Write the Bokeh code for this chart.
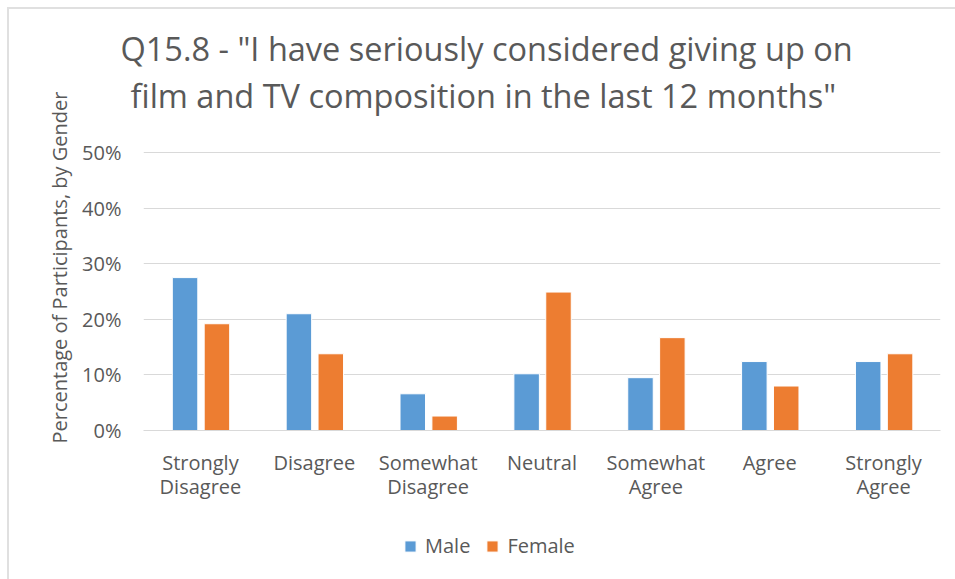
from bokeh.plotting import figure
from bokeh.layouts import column
from bokeh.models import (FactorRange, Range1d, NumeralTickFormatter, Title, Legend, LegendItem,
                          FixedTicker, ColumnDataSource)
from bokeh.transform import dodge
from bokeh.embed import file_html
from bokeh.resources import INLINE

categories = ["Strongly\nDisagree", "Disagree", "Somewhat\nDisagree", "Neutral",
              "Somewhat\nAgree", "Agree", "Strongly\nAgree"]
male = [27.5, 21.0, 6.6, 10.2, 9.5, 12.4, 12.4]
female = [19.2, 13.8, 2.6, 24.9, 16.7, 8.0, 13.8]
y_ticks = [0, 10, 20, 30, 40, 50]
series = ["Male", "Female"]

title_line1 = 'Q15.8 - "I have seriously considered giving up on'
title_line2 = 'film and TV composition in the last 12 months"'
y_label = "Percentage of Participants, by Gender"

TXT = "#595959"
FONT = "Open Sans"
C_MALE = "#5B9BD5"
C_FEMALE = "#ED7D31"
EDGE = "#e0e0e0"

src = ColumnDataSource(dict(cat=categories,
                            male=[v / 100 for v in male],
                            female=[v / 100 for v in female]))

# main chart: 0% at y=430, 50% at y=152, frame top at y=117
y_end = 0.5 * (430 - 117) / (430 - 152)

p = figure(x_range=FactorRange(factors=categories), y_range=Range1d(0, y_end),
           width=955, height=520, output_backend="svg", toolbar_location=None,
           min_border_left=143, min_border_right=15, min_border_top=117, min_border_bottom=90)
p.title = None
p.outline_line_color = None
p.background_fill_color = "white"
p.border_fill_color = None
p.styles = {"background": f"linear-gradient({EDGE}, {EDGE}) 7px 7px / 100% 2px no-repeat, "
                          f"linear-gradient({EDGE}, {EDGE}) 7px 7px / 2px 100% no-repeat, white"}

r_m = p.vbar(x=dodge("cat", -0.135, range=p.x_range), top="male", width=0.224, source=src,
             fill_color=C_MALE, line_color="white", line_width=1)
r_f = p.vbar(x=dodge("cat", 0.145, range=p.x_range), top="female", width=0.224, source=src,
             fill_color=C_FEMALE, line_color="white", line_width=1)

p.yaxis.ticker = FixedTicker(ticks=[t / 100 for t in y_ticks])
p.yaxis.formatter = NumeralTickFormatter(format="0%")
p.yaxis.axis_line_color = None
p.yaxis.major_tick_line_color = None
p.yaxis.minor_tick_line_color = None
p.yaxis.major_tick_out = 0
p.yaxis.minor_tick_out = 0
p.yaxis.major_label_standoff = 22
p.yaxis.major_label_text_font = FONT
p.yaxis.major_label_text_font_size = "20px"
p.yaxis.major_label_text_color = TXT

p.xaxis.axis_line_color = "#D9D9D9"
p.xaxis.axis_line_width = 1
p.xaxis.major_tick_line_color = None
p.xaxis.minor_tick_line_color = None
p.xaxis.major_tick_out = 0
p.xaxis.minor_tick_out = 0
p.xaxis.major_label_standoff = 18
p.xaxis.major_label_text_font = FONT
p.xaxis.major_label_text_font_size = "20px"
p.xaxis.major_label_text_color = TXT
p.xaxis.major_label_text_line_height = 0.92
p.xaxis.major_label_orientation = "horizontal"

p.xgrid.grid_line_color = None
p.ygrid.grid_line_color = "#D9D9D9"
p.ygrid.grid_line_width = 1

p.add_layout(Title(text=y_label, align="left", offset=-13, standoff=14,
                   text_font=FONT, text_font_size="20px", text_font_style="normal",
                   text_color=TXT), "left")

p.add_layout(Title(text=title_line2, align="left", offset=-13, standoff=0,
                   text_font=FONT, text_font_size="32.5px", text_font_style="normal",
                   text_color=TXT), "above")
p.add_layout(Title(text=title_line1, align="left", offset=-23, standoff=0,
                   text_font=FONT, text_font_size="32.5px", text_font_style="normal",
                   text_color=TXT), "above")

# legend strip below the chart (its frame is aligned with the chart's frame)
lg = figure(width=955, height=59, x_range=Range1d(0, 1), y_range=Range1d(0, 1),
            output_backend="svg", toolbar_location=None,
            x_axis_location=None, y_axis_location=None,
            min_border_left=0, min_border_right=0, min_border_top=0, min_border_bottom=0)
lg.title = None
lg.outline_line_color = None
lg.grid.visible = False
lg.background_fill_color = "white"
lg.border_fill_color = None
lg.styles = {"background": f"linear-gradient({EDGE}, {EDGE}) 7px 0px / 2px 100% no-repeat, white"}

# zero-size proxy glyphs, only to give the legend its swatches
proxy = ColumnDataSource(dict(x=[0, 0], top=[0, 0], w=[0, 0]))
lm = lg.vbar(x="x", top="top", width="w", source=proxy, fill_color=C_MALE, line_color="white")
lf = lg.vbar(x="x", top="top", width="w", source=proxy, fill_color=C_FEMALE, line_color="white")
legend = Legend(items=[LegendItem(label=series[0], renderers=[lm]),
                       LegendItem(label=series[1], renderers=[lf])],
                orientation="horizontal", location=(260, 20),
                glyph_width=14, glyph_height=14, label_standoff=8, spacing=15,
                padding=0, margin=0, border_line_color=None, background_fill_alpha=0,
                label_text_font=FONT, label_text_font_size="20px", label_text_color=TXT)
lg.add_layout(legend, "center")

layout = column(p, lg, spacing=0)
open("out.html", "w").write(file_html(layout, INLINE))
